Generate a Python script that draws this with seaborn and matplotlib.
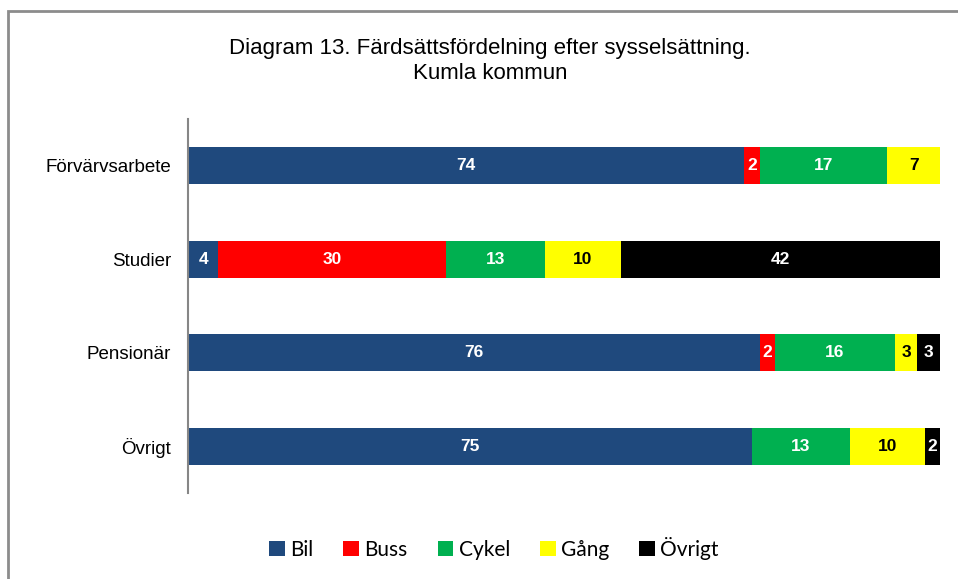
import numpy as np
import pandas as pd
import matplotlib
matplotlib.use("Agg")
import matplotlib.pyplot as plt
import seaborn as sns
from matplotlib.patches import Rectangle, Patch

categories = ["Förvärvsarbete", "Studier", "Pensionär", "Övrigt"]
series = ["Bil", "Buss", "Cykel", "Gång", "Övrigt"]
bil = [74, 4, 76, 75]
buss = [2, 30, 2, 0]
cykel = [17, 13, 16, 13]
gang = [7, 10, 3, 10]
ovrigt = [0, 42, 3, 2]
colors = ["#1f497d", "#ff0000", "#00b050", "#ffff00", "#000000"]
label_colors = ["white", "white", "white", "black", "white"]
title = "Diagram 13. Färdsättsfördelning efter sysselsättning.\nKumla kommun"

vals = np.array([bil, buss, cykel, gang, ovrigt], dtype=float)  # series x categories
totals = vals.sum(axis=0)
pct = vals / totals * 100
cum = np.cumsum(pct, axis=0)

sns.set_theme(style="white")
plt.rcParams["font.family"] = ["Liberation Sans", "DejaVu Sans"]
plt.rcParams["text.color"] = "black"
plt.rcParams["ytick.color"] = "black"

fig = plt.figure(figsize=(9.58, 5.79), dpi=100)
ax = fig.add_axes([188 / 958, 1 - 493 / 579, (940 - 188) / 958, (493 - 119) / 579])

# draw from the top of the stack down so each shorter cumulative bar overlays
for i in reversed(range(len(series))):
    df = pd.DataFrame({"cat": categories, "value": cum[i]})
    sns.barplot(data=df, x="value", y="cat", orient="h", color=colors[i],
                width=0.4, saturation=1, ax=ax, edgecolor="none", linewidth=0)

for j, cat in enumerate(categories):
    for i in range(len(series)):
        if vals[i, j] <= 0:
            continue
        left = cum[i, j] - pct[i, j]
        ax.text(left + pct[i, j] / 2, j, f"{int(vals[i, j])}", ha="center", va="center",
                color=label_colors[i], fontsize=12.5, fontweight="bold")

ax.set_xlim(0, 100)
ax.set_ylim(3.5, -0.5)
ax.set_xlabel("")
ax.set_ylabel("")
ax.set_xticks([])
for s in ["top", "right", "bottom"]:
    ax.spines[s].set_visible(False)
ax.spines["left"].set_color("#868686")
ax.spines["left"].set_linewidth(1.5)
ax.tick_params(axis="y", length=0, pad=12, labelsize=13.5, labelcolor="black")

fig.text(490 / 958, 1 - 61 / 579, title, ha="center", va="center", fontsize=16,
         color="black", linespacing=1.3)

handles = [Patch(facecolor=c, edgecolor="none") for c in colors]
fig.legend(handles, series, loc="center", bbox_to_anchor=(494 / 958, 1 - 548 / 579),
           ncol=5, frameon=False, prop={"family": ["Lato", "DejaVu Sans"], "size": 15},
           handlelength=0.75, handleheight=0.75, handletextpad=0.25, columnspacing=1.45)

fig.patches.append(Rectangle((8 / 958, -0.1), 2, 1.1 - 11 / 579, transform=fig.transFigure,
                             fill=False, edgecolor="#8c8c8c", linewidth=2, figure=fig))

fig.savefig("out.png", dpi=100)
